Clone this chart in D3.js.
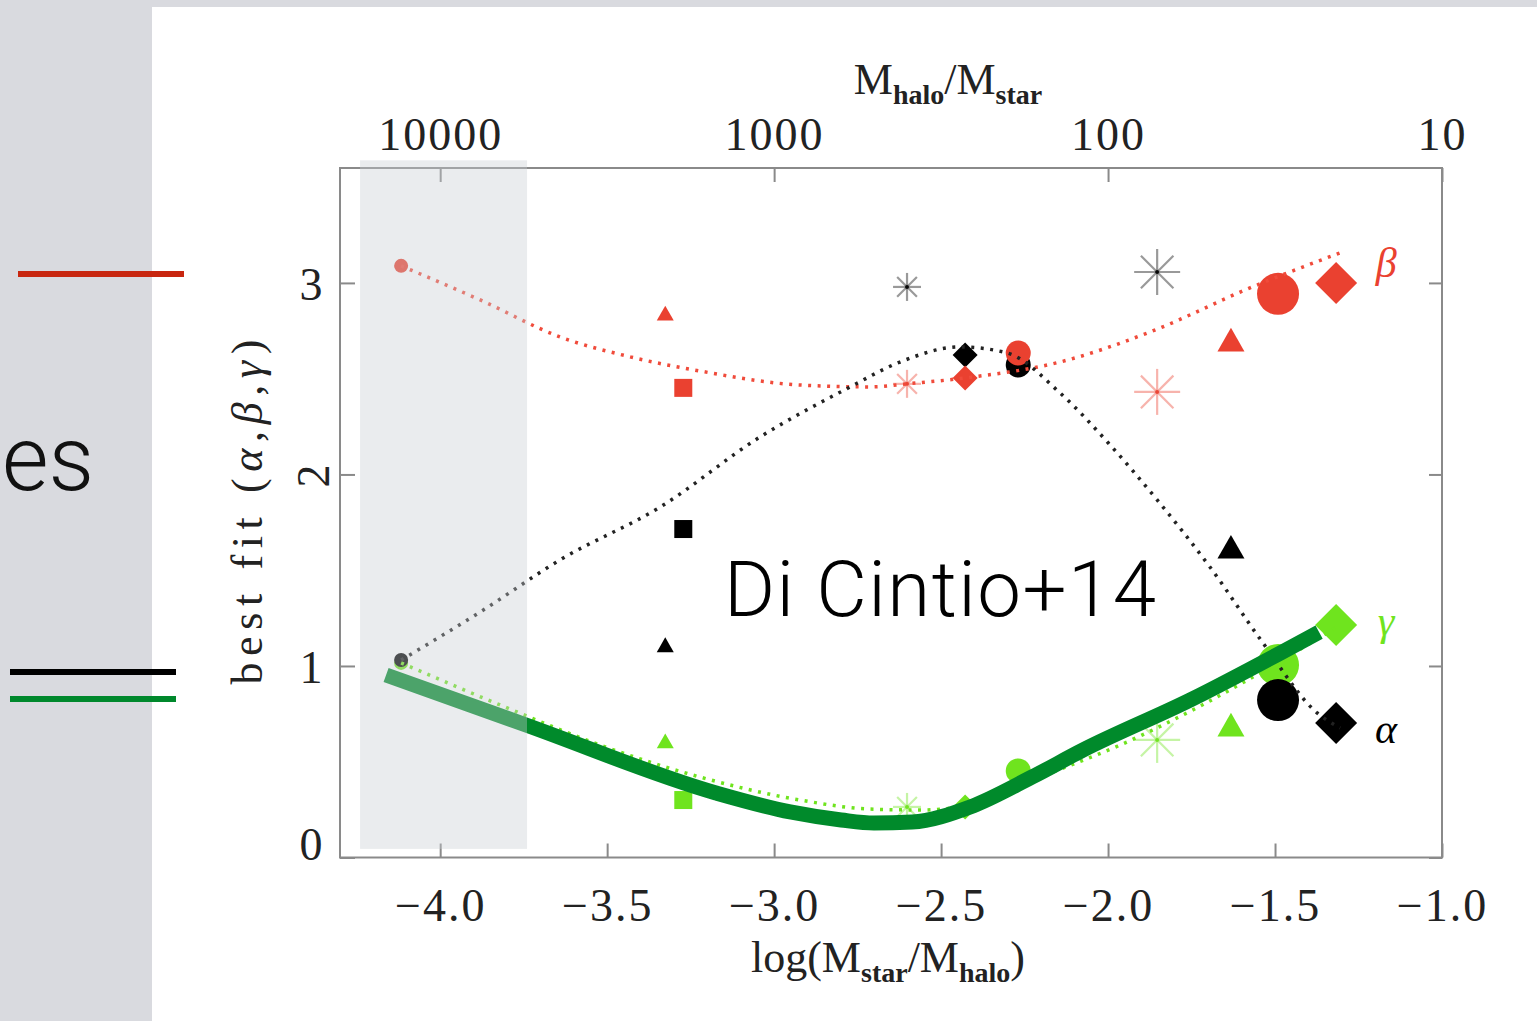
<!DOCTYPE html>
<html>
<head>
<meta charset="utf-8">
<script src="https://cdn.jsdelivr.net/npm/d3@7"></script>
<style>
body { margin: 0; background: #fff; overflow: hidden; }
</style>
</head>
<body>
<div class="chart"></div>
<script>
// fitted curves, [log(Mstar/Mhalo), value]
var alphaFit = [[-4.117, 1.031], [-3.880, 1.282], [-3.641, 1.554], [-3.341, 1.830], [-3.042, 2.196],
    [-2.772, 2.457], [-2.623, 2.587], [-2.443, 2.666], [-2.302, 2.634], [-2.144, 2.426],
    [-1.994, 2.154], [-1.853, 1.867], [-1.695, 1.517], [-1.536, 1.120], [-1.374, 0.755], [-1.305, 0.676]];
var betaFit = [[-4.117, 3.089], [-3.880, 2.911], [-3.641, 2.718], [-3.431, 2.614], [-3.222, 2.540],
    [-2.922, 2.467], [-2.713, 2.457], [-2.602, 2.473], [-2.428, 2.504], [-2.144, 2.587],
    [-1.874, 2.744], [-1.575, 2.974], [-1.305, 3.157]];
var gammaFit = [[-4.117, 1.016], [-3.820, 0.796], [-3.521, 0.587], [-3.222, 0.420], [-2.922, 0.300],
    [-2.713, 0.253], [-2.563, 0.248], [-2.413, 0.274], [-2.174, 0.440], [-1.973, 0.580],
    [-1.725, 0.790], [-1.485, 1.025], [-1.305, 1.214]];
var diCintio = [[-4.162, 0.953], [-3.743, 0.692], [-3.174, 0.337], [-2.952, 0.238], [-2.799, 0.196],
    [-2.701, 0.180], [-2.587, 0.185], [-2.413, 0.264], [-2.228, 0.420], [-2.075, 0.561],
    [-1.754, 0.822], [-1.368, 1.177]];

// simulated galaxies
var simX = [-4.117, -3.326, -3.272, -2.602, -2.428, -2.269, -1.853, -1.632, -1.491, -1.317];
var simShape = ["circle", "triangle", "square", "asterisk", "diamond", "circle", "asterisk", "triangle", "circle", "diamond"];
var alphaVals = [1.031, 1.110, 1.715, 2.979, 2.624, 2.572, 3.057, 1.621, 0.822, 0.702];
var betaVals = [3.089, 2.841, 2.452, 2.473, 2.504, 2.634, 2.431, 2.702, 2.943, 3.000];
var gammaVals = [1.016, 0.608, 0.300, 0.264, 0.264, 0.452, 0.614, 0.692, 1.005, 1.214];

var bottomTicks = [-4.0, -3.5, -3.0, -2.5, -2.0, -1.5, -1.0];
var topTicks = [-4, -3, -2, -1];
var topTickLabels = ["10000", "1000", "100", "10"];
var yTicks = [0, 1, 2, 3];
var shadedX = [-4.24, -3.74];
var shadedY = [0.045, 3.64];

var W = 1537, H = 1021;
var serif = "'Liberation Serif', 'DejaVu Serif', serif";

var x = d3.scaleLinear().domain([-4.3, -1.0]).range([340, 1442]);
var y = d3.scaleLinear().domain([0, 3.6]).range([857.5, 168]);

var svg = d3.select("div.chart").append("svg")
    .attr("width", W)
    .attr("height", H);

svg.append("rect").attr("width", W).attr("height", H).attr("fill", "#fff");

// slide background pieces
svg.append("rect").attr("x", 0).attr("y", 0).attr("width", W).attr("height", 7).attr("fill", "#d9dadf");
svg.append("rect").attr("x", 0).attr("y", 0).attr("width", 152).attr("height", H).attr("fill", "#d9dadf");
svg.append("text")
    .attr("x", 2).attr("y", 490)
    .attr("text-anchor", "start")
    .style("font-family", "Roboto, 'Liberation Sans', sans-serif")
    .style("font-weight", 300)
    .style("font-size", "90px")
    .attr("fill", "#111")
    .text("es");
svg.append("line").attr("x1", 18).attr("x2", 184).attr("y1", 274).attr("y2", 274)
    .attr("stroke", "#c8260f").attr("stroke-width", 6);
svg.append("line").attr("x1", 10).attr("x2", 176).attr("y1", 672).attr("y2", 672)
    .attr("stroke", "#000").attr("stroke-width", 6);
svg.append("line").attr("x1", 10).attr("x2", 176).attr("y1", 699).attr("y2", 699)
    .attr("stroke", "#00882c").attr("stroke-width", 6);

// axes
var axisColor = "#8a8a8a";

var xAxis = d3.axisBottom(x).tickValues(bottomTicks)
    .tickFormat(d3.format(".1f"))
    .tickSizeInner(-14).tickSizeOuter(0).tickPadding(31);
var gx = svg.append("g").attr("transform", "translate(0," + y(0) + ")").call(xAxis);

var xTop = d3.axisTop(x).tickValues(topTicks)
    .tickFormat(function (d, i) { return topTickLabels[i]; })
    .tickSizeInner(-14).tickSizeOuter(0).tickPadding(18);
var gt = svg.append("g").attr("transform", "translate(0," + y(3.6) + ")").call(xTop);

var yAxis = d3.axisLeft(y).tickValues(yTicks)
    .tickFormat(d3.format("d"))
    .tickSizeInner(-15).tickSizeOuter(0).tickPadding(16);
var gy = svg.append("g").attr("transform", "translate(" + x(-4.3) + ",0)").call(yAxis);

var yRight = d3.axisRight(y).tickValues(yTicks)
    .tickFormat("")
    .tickSizeInner(-13).tickSizeOuter(0);
var gr = svg.append("g").attr("transform", "translate(" + x(-1.0) + ",0)").call(yRight);

[gx, gt, gy, gr].forEach(function (g) {
    g.select(".domain").remove();
    g.selectAll(".tick line").attr("stroke", axisColor).attr("stroke-width", 2);
    g.selectAll("text")
        .style("font-family", serif)
        .style("font-size", "46px")
        .style("letter-spacing", "2px")
        .attr("fill", "#222");
});
gy.selectAll(".tick text")
    .attr("text-anchor", "middle")
    .attr("x", -28)
    .attr("dy", function (d) { return d === 0 ? "0.05em" : "0.36em"; })
    .attr("transform", function (d) { return d === 2 ? "rotate(-90,-28,0)" : null; });

svg.append("rect")
    .attr("x", x(-4.3)).attr("y", y(3.6))
    .attr("width", x(-1.0) - x(-4.3)).attr("height", y(0) - y(3.6))
    .attr("fill", "none").attr("stroke", axisColor).attr("stroke-width", 2);

// axis titles
var topTitle = svg.append("text")
    .attr("x", 948).attr("y", 94)
    .attr("text-anchor", "middle")
    .style("font-family", serif).style("font-size", "44px").attr("fill", "#222");
topTitle.append("tspan").text("M");
topTitle.append("tspan").attr("dy", 10).style("font-size", "28px").style("font-weight", "bold").text("halo");
topTitle.append("tspan").attr("dy", -10).text("/M");
topTitle.append("tspan").attr("dy", 10).style("font-size", "28px").style("font-weight", "bold").text("star");

var botTitle = svg.append("text")
    .attr("x", 888).attr("y", 972)
    .attr("text-anchor", "middle")
    .style("font-family", serif).style("font-size", "44px").attr("fill", "#222");
botTitle.append("tspan").text("log(M");
botTitle.append("tspan").attr("dy", 10).style("font-size", "28px").style("font-weight", "bold").text("star");
botTitle.append("tspan").attr("dy", -10).text("/M");
botTitle.append("tspan").attr("dy", 10).style("font-size", "28px").style("font-weight", "bold").text("halo");
botTitle.append("tspan").attr("dy", -10).text(")");

var yTitle = svg.append("text")
    .attr("transform", "translate(262,512) rotate(-90)")
    .attr("text-anchor", "middle")
    .attr("textLength", 345).attr("lengthAdjust", "spacing")
    .style("font-family", serif).style("font-size", "44px").attr("fill", "#222");
yTitle.append("tspan").text("best fit (");
yTitle.append("tspan").style("font-style", "italic").text("α");
yTitle.append("tspan").text(",");
yTitle.append("tspan").style("font-style", "italic").text("β");
yTitle.append("tspan").text(",");
yTitle.append("tspan").style("font-style", "italic").text("γ");
yTitle.append("tspan").text(")");

// markers
var markerSize = [7, 8.5, 9, 14, 12.5, 12.5, 23, 13.5, 21, 21];
var red = "#ea4130", black = "#000", lime = "#6fe41e";

function drawMarkers(vals, color) {
    var g = svg.append("g");
    vals.forEach(function (v, i) {
        var cx = x(simX[i]), cy = y(v), s = markerSize[i], shape = simShape[i];
        var m = g.append("g").attr("transform", "translate(" + cx + "," + cy + ")");
        if (shape === "circle") {
            m.append("circle").attr("r", s).attr("fill", color);
        } else if (shape === "square") {
            m.append("rect").attr("x", -s).attr("y", -s).attr("width", 2 * s).attr("height", 2 * s).attr("fill", color);
        } else if (shape === "triangle") {
            m.append("path").attr("d", "M0," + (-0.9 * s) + "L" + s + "," + (0.85 * s) + "L" + (-s) + "," + (0.85 * s) + "Z").attr("fill", color);
        } else if (shape === "diamond") {
            m.append("path").attr("d", "M0," + (-s) + "L" + s + ",0L0," + s + "L" + (-s) + ",0Z").attr("fill", color);
        } else if (shape === "asterisk") {
            [0, 45, 90, 135].forEach(function (a) {
                var r = a * Math.PI / 180;
                m.append("line")
                    .attr("x1", -s * Math.cos(r)).attr("y1", -s * Math.sin(r))
                    .attr("x2", s * Math.cos(r)).attr("y2", s * Math.sin(r))
                    .attr("stroke", color).attr("stroke-opacity", 0.4).attr("stroke-width", 2.2);
            });
            m.append("circle").attr("r", 2).attr("fill", color).attr("opacity", 0.8);
        }
    });
}
drawMarkers(gammaVals, lime);
drawMarkers(alphaVals, black);
drawMarkers(betaVals, red);

// dotted fits
var line = d3.line()
    .x(function (d) { return x(d[0]); })
    .y(function (d) { return y(d[1]); })
    .curve(d3.curveMonotoneX);

svg.append("path").datum(gammaFit).attr("d", line)
    .attr("fill", "none").attr("stroke", lime).attr("stroke-width", 3.5).attr("stroke-dasharray", "3,6.5");
svg.append("path").datum(betaFit).attr("d", line)
    .attr("fill", "none").attr("stroke", "#f04b3b").attr("stroke-width", 3.5).attr("stroke-dasharray", "3,6.5");
svg.append("path").datum(alphaFit).attr("d", line)
    .attr("fill", "none").attr("stroke", "#222").attr("stroke-width", 3.5).attr("stroke-dasharray", "3,6.5");

// greek labels
var lastX = x(simX[simX.length - 1]);
[["β", betaVals, red, -20], ["γ", gammaVals, lime, -4], ["α", alphaVals, black, 6]].forEach(function (l) {
    svg.append("text")
        .attr("x", lastX + 50).attr("y", y(l[1][l[1].length - 1]) + l[3] + 14)
        .attr("text-anchor", "middle")
        .style("font-family", serif).style("font-style", "italic").style("font-size", "42px")
        .attr("fill", l[2]).text(l[0]);
});

// Di Cintio+14 relation
svg.append("path").datum(diCintio).attr("d", line)
    .attr("fill", "none").attr("stroke", "#008a2b").attr("stroke-width", 15)
    .attr("stroke-linejoin", "round");

// shaded region drawn on top
svg.append("rect")
    .attr("x", x(shadedX[0])).attr("y", y(shadedY[1]))
    .attr("width", x(shadedX[1]) - x(shadedX[0]))
    .attr("height", y(shadedY[0]) - y(shadedY[1]))
    .attr("fill", "#c8ccd2").attr("opacity", 0.38);

svg.append("text")
    .attr("x", 724).attr("y", 616)
    .style("font-family", "Roboto, 'Liberation Sans', sans-serif")
    .style("font-weight", 300)
    .style("font-size", "78px")
    .style("letter-spacing", "1.5px")
    .attr("fill", "#000")
    .text("Di Cintio+14");
</script>
</body>
</html>
